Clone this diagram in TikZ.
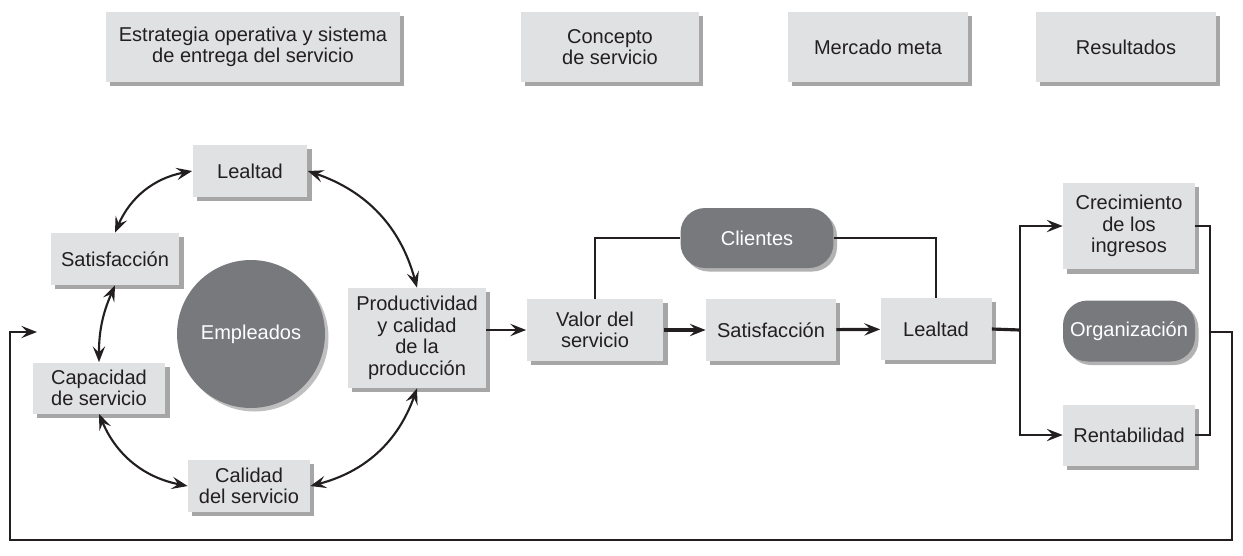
\documentclass[tikz,border=0pt]{standalone}
\usepackage{fontspec}
\setmainfont{Liberation Sans}
\usetikzlibrary{arrows.meta,positioning,shadows}
\definecolor{boxgray}{RGB}{224,225,227}
\definecolor{empgray}{RGB}{120,121,125}
\definecolor{inkgray}{RGB}{35,31,32}

\begin{document}
\begin{tikzpicture}[x=0.02cm, y=-0.02cm,
    every node/.style={font=\fontsize{11.4}{12.3}\selectfont, align=center, text=inkgray, inner sep=0pt},
    box/.style={fill=boxgray, drop shadow={shadow xshift=2.5pt, shadow yshift=-2.5pt, fill=black, opacity=0.35}},
    darkbox/.style={fill=empgray, text=white, rounded corners=14pt, drop shadow={shadow xshift=2pt, shadow yshift=-2pt, fill=black, opacity=0.3}},
    link/.style={draw=inkgray, line width=1.2pt},
    chain/.style={draw=inkgray, line width=1.8pt},
    tip/.style={-{Stealth[length=9pt, width=7pt, inset=3.5pt]}},
    twotip/.style={{Stealth[length=9pt, width=7pt, inset=3.5pt]}-{Stealth[length=9pt, width=7pt, inset=3.5pt]}}]
\useasboundingbox (0,0) rectangle (1243,555);
% top row
\node[box, minimum width=5.88cm, minimum height=1.4cm] (est) at (253,47) {Estrategia operativa y sistema\\de entrega del servicio};
\node[box, minimum width=3.56cm, minimum height=1.4cm] (con) at (610,47) {Concepto\\de servicio};
\node[box, minimum width=3.6cm, minimum height=1.4cm] (mer) at (878,47) {Mercado meta};
\node[box, minimum width=3.6cm, minimum height=1.4cm] (res) at (1126,47) {Resultados};
% employee cycle
\node[circle, fill=empgray, text=white, minimum size=2.96cm, drop shadow={shadow xshift=2pt, shadow yshift=-2pt, fill=black, opacity=0.25}] (emp) at (251,334) {Empleados};
\node[box, minimum width=2.3cm, minimum height=1.04cm] (lea) at (250,171) {Lealtad};
\node[box, minimum width=2.58cm, minimum height=1.04cm] (sat) at (115,259) {Satisfacción};
\node[box, minimum width=2.66cm, minimum height=1.02cm] (cap) at (99,388) {Capacidad\\de servicio};
\node[box, minimum width=2.44cm, minimum height=1.04cm] (cal) at (249,486) {Calidad\\del servicio};
\node[box, minimum width=2.76cm, minimum height=2.0cm] (prod) at (417,338) {Productividad\\y calidad\\de la\\producción};
\draw[link, twotip, bend right=28] (lea.west) to (sat.north);
\draw[link, twotip, bend left=28] (lea.east) to (prod.north);
\draw[link, twotip, bend left=28] (prod.south) to (cal.east);
\draw[link, twotip, bend left=28] (cal.west) to (cap.south);
\draw[link, twotip, bend left=12] (cap.north) to (sat.south);
% customer chain
\node[box, minimum width=2.74cm, minimum height=1.24cm] (val) at (595,330) {Valor del\\servicio};
\node[box, minimum width=2.6cm, minimum height=1.24cm] (sat2) at (771,330) {Satisfacción};
\node[box, minimum width=2.22cm, minimum height=1.24cm] (lea2) at (936,329) {Lealtad};
\node[darkbox, minimum width=3.06cm, minimum height=1.2cm] (cli) at (757,238) {Clientes};
\draw[link, tip] (prod.east |- val.west) -- (val.west);
\draw[chain, tip] (val) -- (sat2);
\draw[chain, tip] (sat2) -- (lea2);
\draw[link] (val.north) |- (cli.west);
\draw[link] (cli.east) -| (lea2.north);
% results
\node[box, minimum width=2.64cm, minimum height=1.74cm] (cre) at (1129,226) {Crecimiento\\de los\\ingresos};
\node[darkbox, minimum width=2.64cm, minimum height=1.22cm] (org) at (1129,331) {Organización};
\node[box, minimum width=2.64cm, minimum height=1.22cm] (ren) at (1129,435) {Rentabilidad};
\coordinate (ljoin) at (1020,330);
\coordinate (rjoin) at (1210,332);
\coordinate (fbin) at (37,332);
\draw[chain] (lea2.east) -- (ljoin);
\draw[link, tip] (ljoin) |- (cre.west);
\draw[link, tip] (ljoin) |- (ren.west);
\draw[link] (cre.east) -| (rjoin) |- (ren.east);
% feedback to employees
\draw[link, tip] (rjoin) -- ++(22,0) |- (10,540) |- (fbin);
\end{tikzpicture}
\end{document}
